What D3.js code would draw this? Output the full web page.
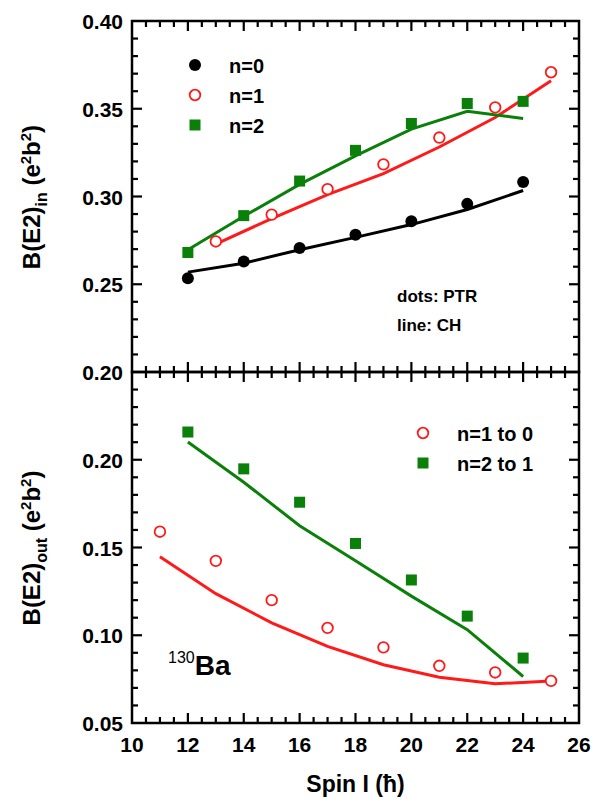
<!DOCTYPE html>
<html><head><meta charset="utf-8">
<script src="https://cdn.jsdelivr.net/npm/d3@7"></script>
<style>body{margin:0;background:#fff}text{font-family:"Liberation Sans",Arial,sans-serif;font-weight:bold}</style>
</head><body><svg id="c" width="598" height="809"></svg>
<script>
// top panel: B(E2)_in
var spinEven = [12,14,16,18,20,22,24]
var spinOdd13 = [13,15,17,19,21,23,25]
var n0Dots = [0.2534,0.2630,0.2706,0.2782,0.2859,0.2958,0.3082]
var n0Line = [0.2569,0.2620,0.2697,0.2767,0.2840,0.2926,0.3034]
var n1Dots = [0.2744,0.2897,0.3042,0.3183,0.3336,0.3508,0.3708]
var n1Line = [0.2729,0.2874,0.3011,0.3130,0.3282,0.3450,0.3660]
var n2Dots = [0.2681,0.2891,0.3088,0.3263,0.3416,0.3530,0.3542]
var n2Line = [0.2697,0.2887,0.3069,0.3231,0.3384,0.3485,0.3445]
// bottom panel: B(E2)_out
var spinOdd11 = [11,13,15,17,19,21,23,25]
var out10Dots = [0.1590,0.1424,0.1200,0.1042,0.0931,0.0826,0.0788,0.0740]
var out10Line = [0.1447,0.1237,0.1071,0.0937,0.0832,0.0761,0.0723,0.0740]
var out21Dots = [0.2158,0.1948,0.1758,0.1523,0.1315,0.1109,0.0870]
var out21Line = [0.2101,0.1872,0.1624,0.1424,0.1223,0.1032,0.0765]
var xTicks = [10,12,14,16,18,20,22,24,26]
var topTicks = [0.20,0.25,0.30,0.35,0.40]
var botTicks = [0.05,0.10,0.15,0.20]

var svg = d3.select('#c')
var L = 132, R = 579
var x = d3.scaleLinear().domain([10,26]).range([L,R])
var yTop = d3.scaleLinear().domain([0.20,0.40]).range([372,21])
var yBot = d3.scaleLinear().domain([0.05,0.25]).range([723,372])
var GREEN = '#0a800a', RED = '#ff1a1a'

function tick(g, x1, y1, x2, y2){
	g.append('line').attr('x1',x1).attr('y1',y1).attr('x2',x2).attr('y2',y2).attr('stroke','#000').attr('stroke-width',2.2)
}
function frame(y, ticks, showX){
	var g = svg.append('g')
	var y0 = y.range()[0], y1 = y.range()[1]
	for (var k = 21; k < 52; k++){
		var v = k/2, len = (k % 4 == 0) ? 10 : 6
		tick(g, x(v), y0, x(v), y0-len)
		tick(g, x(v), y1, x(v), y1+len)
	}
	var d = y.domain()
	for (var i = Math.round(d[0]*100)+1; i < Math.round(d[1]*100); i++){
		var yv = y(i/100), len2 = (i % 5 == 0) ? 10 : 6
		tick(g, L, yv, L+len2, yv)
		tick(g, R, yv, R-len2, yv)
	}
	ticks.forEach(function(v){
		g.append('text').attr('x',L-9).attr('y',y(v)+8).attr('text-anchor','end').attr('font-size',21).text(d3.format('.2f')(v))
	})
	g.append('rect').attr('x',L).attr('y',y1).attr('width',R-L).attr('height',y0-y1).attr('fill','none').attr('stroke','#000').attr('stroke-width',2.5)
	if (showX){
		xTicks.forEach(function(v){
			g.append('text').attr('x',x(v)).attr('y',y0+29).attr('text-anchor','middle').attr('font-size',21).text(v)
		})
	}
}

function line(xs, ys, y, col){
	svg.append('path').datum(xs.map(function(d,i){return [d, ys[i]]}))
		.attr('d', d3.line().x(function(d){return x(d[0])}).y(function(d){return y(d[1])}))
		.attr('fill','none').attr('stroke',col).attr('stroke-width',3)
}
function dots(xs, ys, y, kind){
	xs.forEach(function(d,i){ marker(x(d), y(ys[i]), kind) })
}
function marker(px, py, kind){
	if (kind == 'black') svg.append('circle').attr('cx',px).attr('cy',py).attr('r',6).attr('fill','#000')
	else if (kind == 'red') svg.append('circle').attr('cx',px).attr('cy',py).attr('r',5.3).attr('fill','#fff').attr('stroke',RED).attr('stroke-width',1.8)
	else svg.append('rect').attr('x',px-5.5).attr('y',py-5.5).attr('width',11).attr('height',11).attr('fill',GREEN)
}

frame(yTop, topTicks, false)
frame(yBot, botTicks, true)

line(spinEven, n0Line, yTop, '#000')
line(spinOdd13, n1Line, yTop, RED)
line(spinEven, n2Line, yTop, GREEN)
dots(spinEven, n0Dots, yTop, 'black')
dots(spinOdd13, n1Dots, yTop, 'red')
dots(spinEven, n2Dots, yTop, 'green')

line(spinOdd11, out10Line, yBot, RED)
line(spinEven, out21Line, yBot, GREEN)
dots(spinOdd11, out10Dots, yBot, 'red')
dots(spinEven, out21Dots, yBot, 'green')

// legends
var topLeg = [['black','n=0',65],['red','n=1',95],['green','n=2',125]]
topLeg.forEach(function(l){
	marker(195, l[2], l[0])
	svg.append('text').attr('x',229).attr('y',l[2]+8).attr('font-size',20).text(l[1])
})
svg.append('text').attr('x',397).attr('y',302).attr('font-size',17).text('dots: PTR')
svg.append('text').attr('x',397).attr('y',331).attr('font-size',17).text('line: CH')
var botLeg = [['red','n=1 to 0',433],['green','n=2 to 1',463]]
botLeg.forEach(function(l){
	marker(423, l[2], l[0])
	svg.append('text').attr('x',457).attr('y',l[2]+8).attr('font-size',20).text(l[1])
})
var ba = svg.append('text').attr('x',168).attr('y',675)
ba.append('tspan').attr('font-size',16).attr('dy',-12).attr('font-weight','normal').text('130')
ba.append('tspan').attr('font-size',28).attr('dy',12).text('Ba')

// axis titles
function ytitle(cy, sub){
	var t = svg.append('text').attr('transform','translate(40,'+cy+') rotate(-90)').attr('text-anchor','middle').attr('font-size',24)
	t.append('tspan').text('B(E2)')
	t.append('tspan').attr('font-size',16).attr('dy',7).text(sub)
	t.append('tspan').attr('dy',-7).text(' (e')
	t.append('tspan').attr('font-size',15).attr('dy',-9).text('2')
	t.append('tspan').attr('dy',9).text('b')
	t.append('tspan').attr('font-size',15).attr('dy',-9).text('2')
	t.append('tspan').attr('dy',9).text(')')
}
ytitle(197, 'in')
ytitle(548, 'out')
svg.append('text').attr('x',(L+R)/2).attr('y',792).attr('text-anchor','middle').attr('font-size',23).text('Spin I (ħ)')
</script></body></html>
